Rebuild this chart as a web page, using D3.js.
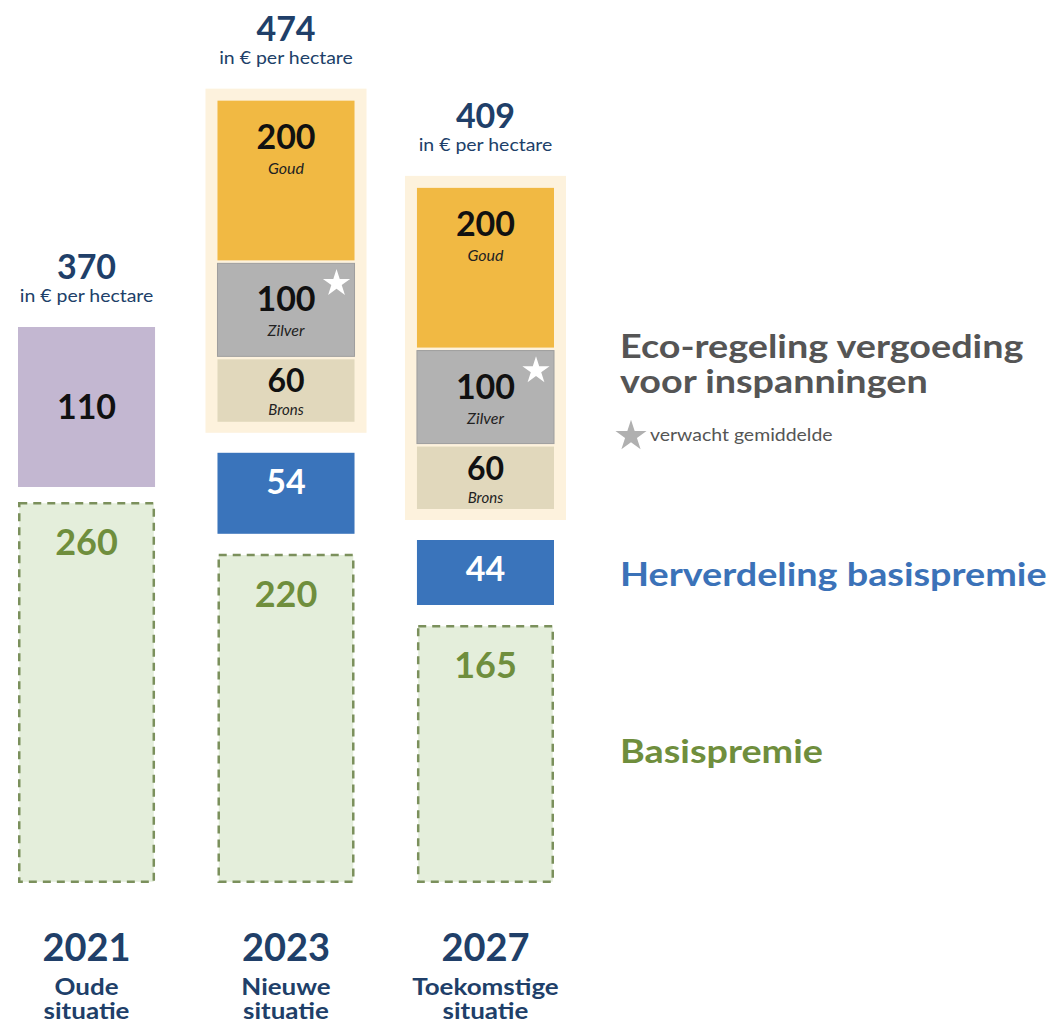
<!DOCTYPE html>
<html><head><meta charset="utf-8">
<script src="https://cdn.jsdelivr.net/npm/d3@7/dist/d3.min.js"></script>
<style>
html,body{margin:0;padding:0;background:#fff;}
svg{display:block;font-family:Lato,"Open Sans","Noto Sans",sans-serif;}
</style></head>
<body>
<svg id="chart" width="1056" height="1026"></svg>
<script>
// ---- data ----
const categories = ["2021", "2023", "2027"];
const situations = [["Oude", "situatie"], ["Nieuwe", "situatie"], ["Toekomstige", "situatie"]];
const totals = [370, 474, 409];
const totalUnit = "in € per hectare";
const basispremie = [260, 220, 165];
const herverdeling = [null, 54, 44];
const ecoOud = [110, null, null];
const brons = [null, 60, 60];
const zilver = [null, 100, 100];
const goud = [null, 200, 200];
const ecoNames = ["Goud", "Zilver", "Brons"];
const legendEco = ["Eco-regeling vergoeding", "voor inspanningen"];
const legendStar = "verwacht gemiddelde";
const legendHer = "Herverdeling basispremie";
const legendBasis = "Basispremie";

// ---- scales ----
const svg = d3.select("#chart");
const x = d3.scaleBand().domain(categories).range([18, 554]).paddingInner(0.313).paddingOuter(0);
const baseY = 883;
const basisH = d3.scaleLinear().domain([165, 260]).range([258, 381]);
const herH = d3.scaleLinear().domain([44, 54]).range([65, 81]);
const oudH = d3.scaleLinear().domain([0, 110]).range([0, 160]);
const ecoH = d3.scalePow().exponent(0.78).domain([0, 100]).range([0, 93]);

const C = {
  navy: "#203f69", purple: "#c3b7d1", goud: "#f1b943", zilver: "#b2b2b2",
  brons: "#e1d8bc", cream: "#fdf2dd", blue: "#3a74bb", greenFill: "#e4eedb",
  greenStroke: "#7b905c", greenText: "#6f8e3d", gray: "#555555"
};
const SX = 1.18; // horizontal stretch for the wide humanist lettering

function wideText(sel, xPos, yPos, anchor) {
  return sel.append("text")
    .attr("transform", `translate(${xPos},${yPos}) scale(${SX},1)`)
    .attr("text-anchor", anchor);
}

const bw = x.bandwidth();

categories.forEach((cat, i) => {
  const x0 = x(cat);
  const cx = x0 + bw / 2;
  const g = svg.append("g");
  // basispremie
  const bh = basisH(basispremie[i]);
  let top = baseY - bh;
  g.append("rect").attr("x", x0 + 1.25).attr("y", top + 1.25).attr("width", bw - 2.5).attr("height", bh - 2.5)
    .attr("fill", C.greenFill).attr("stroke", C.greenStroke).attr("stroke-width", 2.5)
    .attr("stroke-dasharray", "8,6");
  g.append("text").attr("x", cx).attr("y", top + 53).attr("text-anchor", "middle")
    .attr("font-size", 36).attr("font-weight", 700).attr("fill", C.greenText).text(basispremie[i]);

  let cursor = top;
  if (ecoOud[i] != null) {
    const h = oudH(ecoOud[i]);
    const b = cursor - 15, t = b - h;
    g.append("rect").attr("x", x0).attr("y", t).attr("width", bw).attr("height", h).attr("fill", C.purple);
    g.append("text").attr("x", cx).attr("y", t + h / 2 + 12).attr("text-anchor", "middle")
      .attr("font-size", 34).attr("font-weight", 700).attr("fill", "#111").text(ecoOud[i]);
    cursor = t;
  }
  if (herverdeling[i] != null) {
    const h = herH(herverdeling[i]);
    const b = cursor - 20, t = b - h;
    g.append("rect").attr("x", x0).attr("y", t).attr("width", bw).attr("height", h).attr("fill", C.blue);
    g.append("text").attr("x", cx).attr("y", t + 41).attr("text-anchor", "middle")
      .attr("font-size", 34).attr("font-weight", 700).attr("fill", "#fff").text(herverdeling[i]);
    cursor = t;
  }
  if (goud[i] != null) {
    const segs = [
      {v: brons[i], name: ecoNames[2], fill: C.brons},
      {v: zilver[i], name: ecoNames[1], fill: C.zilver, star: true},
      {v: goud[i], name: ecoNames[0], fill: C.goud}
    ];
    const creamBottom = cursor - 20;
    let b = creamBottom - 11;
    const rects = [];
    segs.forEach(s => {
      const h = ecoH(s.v);
      const t = b - h;
      rects.push({...s, t, h});
      b = t - 3;
    });
    const creamTop = b + 3 - 12;
    g.append("rect").attr("x", x0 - 12).attr("y", creamTop).attr("width", bw + 24)
      .attr("height", creamBottom - creamTop).attr("fill", C.cream);
    rects.forEach(s => {
      g.append("rect").attr("x", x0).attr("y", s.t).attr("width", bw).attr("height", s.h)
        .attr("fill", s.fill).attr("stroke", s.star ? "#9e9e9e" : "none").attr("stroke-width", 1);
      const small = s.h < 80;
      const ny = small ? s.t + 33 : s.t + Math.min(s.h * 0.5 + 2, 48);
      const sy = small ? s.t + 56 : ny + 25;
      g.append("text").attr("x", cx).attr("y", ny).attr("text-anchor", "middle")
        .attr("font-size", small ? 32 : 34).attr("font-weight", 700).attr("fill", "#111").text(s.v);
      g.append("text").attr("x", cx).attr("y", sy).attr("text-anchor", "middle")
        .attr("font-size", small ? 15 : 16).attr("font-style", "italic").attr("fill", "#222").text(s.name);
      if (s.star) {
        g.append("path").attr("d", d3.symbol(d3.symbolStar).size(230)())
          .attr("transform", `translate(${x0 + bw - 18},${s.t + 20})`).attr("fill", "#fff");
      }
    });
    cursor = creamTop;
  }
  // total label
  g.append("text").attr("x", cx).attr("y", cursor - 48).attr("text-anchor", "middle")
    .attr("font-size", 34).attr("font-weight", 700).attr("fill", C.navy).text(totals[i]);
  wideText(g, cx, cursor - 25, "middle")
    .attr("font-size", 16.5).attr("fill", C.navy).text(totalUnit);

  // category labels
  g.append("text").attr("x", cx).attr("y", 961).attr("text-anchor", "middle")
    .attr("font-size", 38).attr("font-weight", 700).attr("fill", C.navy).text(cat);
  situations[i].forEach((line, j) => {
    wideText(g, cx, 995 + j * 24, "middle")
      .attr("font-size", 22).attr("font-weight", 700).attr("fill", C.navy).text(line);
  });
});

// ---- legend ----
const lx = 620;
legendEco.forEach((t, j) => {
  wideText(svg, lx, 358 + j * 35, "start").attr("font-size", 32)
    .attr("font-weight", 700).attr("fill", C.gray).text(t);
});
svg.append("path").attr("d", d3.symbol(d3.symbolStar).size(300)())
  .attr("transform", `translate(${lx + 11},436)`).attr("fill", "#b0b0b0");
wideText(svg, lx + 30, 441, "start").attr("font-size", 16.5).attr("fill", C.gray).text(legendStar);
wideText(svg, lx, 586, "start").attr("font-size", 32)
  .attr("font-weight", 700).attr("fill", "#3b72b8").text(legendHer);
wideText(svg, lx, 763, "start").attr("font-size", 32)
  .attr("font-weight", 700).attr("fill", C.greenText).text(legendBasis);
</script>
</body></html>
